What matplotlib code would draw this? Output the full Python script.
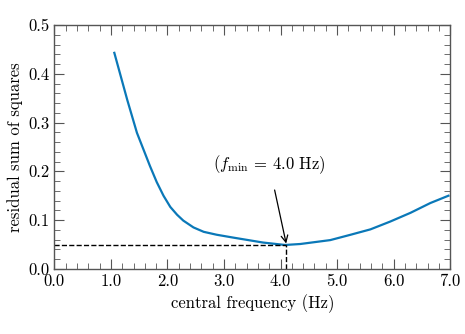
import numpy as np
import matplotlib.pyplot as plt
from matplotlib.ticker import MultipleLocator, FormatStrFormatter

plt.rcParams['font.family'] = 'serif'
plt.rcParams['font.serif'] = ['cmr10']
plt.rcParams['mathtext.fontset'] = 'cm'
plt.rcParams['axes.formatter.use_mathtext'] = True

# valores
freq = [1.06, 1.29, 1.46, 1.69, 1.81, 1.93, 2.05, 2.17, 2.28, 2.46, 2.64,
        2.87, 3.17, 3.43, 3.69, 4.08, 4.35, 4.88, 5.24, 5.59, 5.94, 6.30,
        6.65, 6.97]
rss = [0.443, 0.346, 0.279, 0.211, 0.178, 0.150, 0.127, 0.111, 0.099, 0.085,
       0.076, 0.070, 0.064, 0.059, 0.054, 0.049, 0.051, 0.059, 0.070, 0.081,
       0.097, 0.115, 0.135, 0.150]
f_min = 4.1
rss_min = 0.049

fig = plt.figure(figsize=(4.65, 3.34), dpi=100)
ax = fig.add_axes([0.117, 0.195, 0.851, 0.730])

ax.plot(freq, rss, color='#0a78b8', lw=1.6)

# linhas tracejadas até o mínimo
ax.plot([0, f_min], [rss_min, rss_min], 'k--', lw=1.0)
ax.plot([f_min, f_min], [0, rss_min], 'k--', lw=1.0)

ax.annotate(r'($f_{\min}$ = 4.0 Hz)', xy=(f_min, rss_min + 0.003),
            xytext=(3.8, 0.213), ha='center', va='center', fontsize=12,
            arrowprops=dict(arrowstyle='->', color='black', lw=0.9,
                            shrinkA=8, shrinkB=0))

ax.set_xlim(0, 7)
ax.set_ylim(0, 0.5)
ax.xaxis.set_major_locator(MultipleLocator(1.0))
ax.xaxis.set_minor_locator(MultipleLocator(0.2))
ax.yaxis.set_major_locator(MultipleLocator(0.1))
ax.yaxis.set_minor_locator(MultipleLocator(0.02))
ax.xaxis.set_major_formatter(FormatStrFormatter('%.1f'))
ax.yaxis.set_major_formatter(FormatStrFormatter('%.1f'))
ax.tick_params(which='both', direction='in', top=True, right=True,
               color='#555555', labelsize=12)
ax.tick_params(which='major', length=7, width=0.8)
ax.tick_params(which='minor', length=4, width=0.6)
for s in ax.spines.values():
    s.set_color('#555555')
    s.set_linewidth(1.0)

ax.set_xlabel('central frequency (Hz)', fontsize=12)
ax.set_ylabel('residual sum of squares', fontsize=12)

fig.savefig('out.png', dpi=100)
